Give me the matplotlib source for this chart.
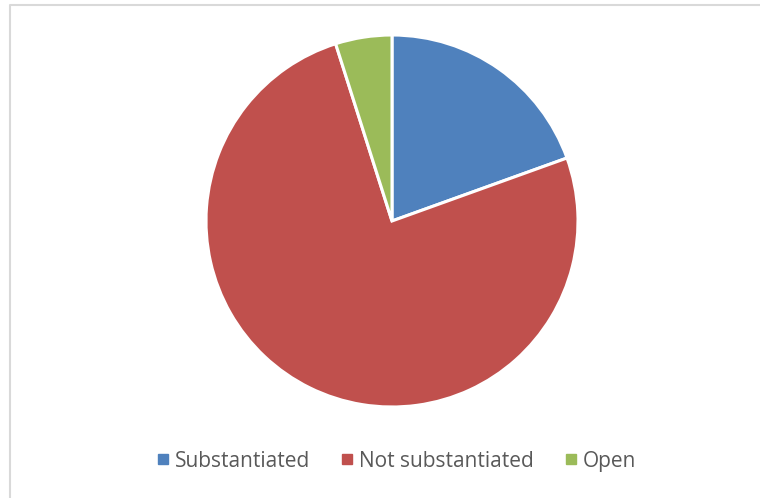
import matplotlib
matplotlib.use('Agg')
import matplotlib.pyplot as plt
from matplotlib.lines import Line2D

# data (percent of cases)
labels = ['Substantiated', 'Not substantiated', 'Open']
values = [19.5, 75.6, 4.9]
colors = ['#4F81BD', '#C0504D', '#9BBB59']

W, H = 760, 498
fig = plt.figure(figsize=(W / 100, H / 100), dpi=100, facecolor='white')

# light chart border (Excel style): only the top and left edges show
bx, by = 9.5 / W, 1 - 5.5 / H
fig.add_artist(Line2D([bx, bx, 1.0], [0, by, by], transform=fig.transFigure,
                      color='#D9D9D9', linewidth=1.5))

cx, cy, r = 392, 221, 186
ax = fig.add_axes([(cx - r) / W, (H - cy - r) / H, 2 * r / W, 2 * r / H])
ax.pie(values, colors=colors, startangle=90, counterclock=False,
       wedgeprops=dict(edgecolor='white', linewidth=2.2))
ax.set_aspect('equal')
ax.set_xlim(-1, 1)
ax.set_ylim(-1, 1)
ax.axis('off')

handles = [Line2D([], [], marker='s', linestyle='', markersize=7,
                  markerfacecolor=c, markeredgecolor=c) for c in colors]
fig.legend(handles, labels, loc='center', bbox_to_anchor=(397 / W, 1 - 461 / H),
           ncol=3, frameon=False, handlelength=0.5,
           handletextpad=0.35, columnspacing=1.5, labelcolor='#595959',
           prop={'family': 'Open Sans', 'size': 15})

fig.savefig('out.png', dpi=100, facecolor='white')
